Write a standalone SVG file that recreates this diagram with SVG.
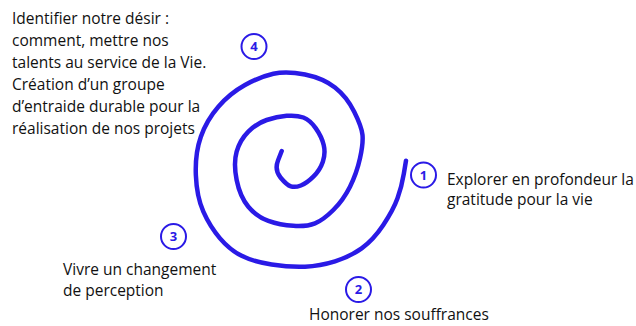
<svg xmlns="http://www.w3.org/2000/svg" width="636" height="326" viewBox="0 0 636 326">
<style>
.t{font-family:"Open Sans","Liberation Sans",sans-serif;font-size:15.5px;fill:#111}
.c{fill:none;stroke:#2a1ae6;stroke-width:2}
.n{font-family:"Open Sans","Liberation Sans",sans-serif;font-size:13px;font-weight:bold;fill:#2a1ae6;text-anchor:middle}
.s{fill:none;stroke:#2a1ae6;stroke-width:4.5;stroke-linecap:round;stroke-linejoin:round}
</style>
<rect width="636" height="326" fill="#fff"/>
<g id="connectors">
<path class="s" d="M281.7,151 L278,160.5 Q274.3,170 280.5,177.5 Q286.7,185 290.85,186.35 Q295,187.7 300.85,185.5 Q306.7,183.3 313.35,176.65 Q320,170 322.85,161.65 Q325.7,153.3 323.7,145 Q321.7,136.7 315.85,128.35 Q310,120 303.35,117.5 Q296.7,115 286.7,115.85 Q276.7,116.7 266.7,120 Q256.7,123.3 248.35,131.65 Q240,140 236.65,151.65 Q233.3,163.3 236.65,180 Q240,196.7 248.35,206.7 Q256.7,216.7 268.35,220.85 Q280,225 293.35,225.85 Q306.7,226.7 315,223.35 Q323.3,220 333.3,210 Q343.3,200 350,186.65 Q356.7,173.3 360,158.3 Q363.3,143.3 362.5,135 Q361.7,126.7 354.2,111.7 Q346.7,96.7 335,87.5 Q323.3,78.3 305,74.5 Q286.7,70.7 273.35,73.7 Q260,76.7 245,85 Q230,93.3 218.35,106.65 Q206.7,120 200.85,136.65 Q195,153.3 195.85,175 Q196.7,196.7 203.35,211.7 Q210,226.7 220,238.35 Q230,250 241.65,255.85 Q253.3,261.7 271.65,264.5 Q290,267.3 305,266.65 Q320,266 335,261.35 Q350,256.7 361.65,248.35 Q373.3,240 383.3,225 Q393.3,210 397.5,198.35 Q401.7,186.7 403.85,173.7 L406,160.7"/>
</g>
<g id="step1">
<circle class="c" cx="423.5" cy="175" r="12.5"/>
<text class="n" x="423.5" y="179.5">1</text>
<text class="t" x="447" y="185">Explorer en profondeur la</text>
<text class="t" x="447" y="205">gratitude pour la vie</text>
</g>
<g id="step2">
<circle class="c" cx="358.5" cy="289.5" r="12.5"/>
<text class="n" x="358.5" y="294">2</text>
<text class="t" x="309" y="320">Honorer nos souffrances</text>
</g>
<g id="step3">
<circle class="c" cx="173.5" cy="236.5" r="12.5"/>
<text class="n" x="173.5" y="241">3</text>
<text class="t" x="63" y="275">Vivre un changement</text>
<text class="t" x="63" y="296">de perception</text>
</g>
<g id="step4">
<circle class="c" cx="254" cy="46.5" r="12.5"/>
<text class="n" x="254" y="51">4</text>
<text class="t" x="12" y="24">Identifier notre désir :</text>
<text class="t" x="12" y="46">comment, mettre nos</text>
<text class="t" x="12" y="68">talents au service de la Vie.</text>
<text class="t" x="12" y="90">Création d’un groupe</text>
<text class="t" x="12" y="112">d’entraide durable pour la</text>
<text class="t" x="12" y="134">réalisation de nos projets</text>
</g>
</svg>
